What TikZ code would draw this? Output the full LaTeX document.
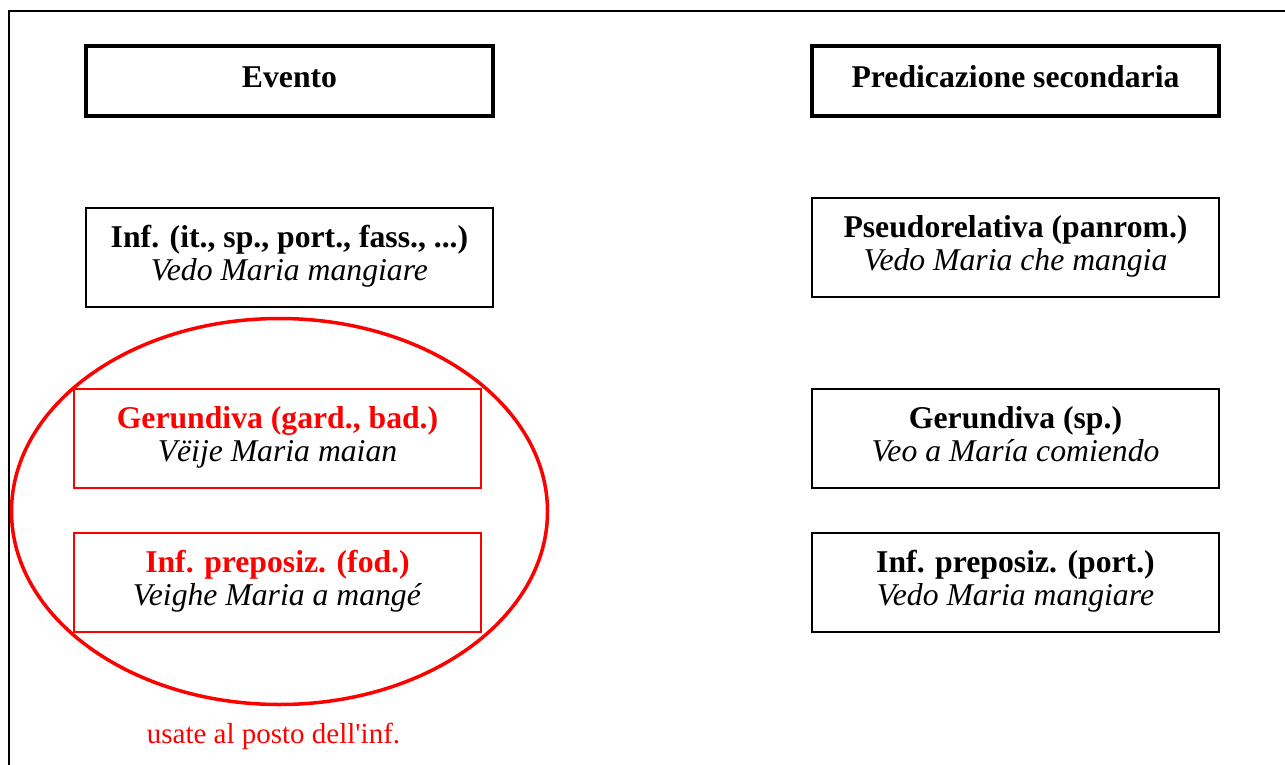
\documentclass[tikz,border=0pt]{standalone}
\usepackage{fontspec}
\setmainfont{Liberation Serif}
\newfontfamily\notefont{Liberation Serif}[Ligatures=TeXOff]
\usetikzlibrary{shapes.geometric}
\definecolor{pured}{RGB}{255,0,0}
\begin{document}
\begin{tikzpicture}[x=1pt,y=-1pt,
  headbox/.style={draw=black,line width=4pt,minimum width=407pt,minimum height=70pt,inner sep=0pt,
    font=\fontsize{31.7}{33}\selectfont\bfseries},
  itembox/.style={draw=black,line width=1.8pt,minimum width=407pt,minimum height=99pt,inner sep=0pt,align=center,
    font=\fontsize{31.7}{33}\selectfont},
  redbox/.style={itembox,draw=pured},
  grp/.style={draw=pured,line width=3.5pt,ellipse,minimum width=536pt,minimum height=386pt,inner sep=0pt},
  note/.style={text=pured,font=\notefont\fontsize{29}{33}\selectfont,inner sep=0pt,anchor=base}
]
\useasboundingbox (0,0) rectangle (1285,765);
\draw[line width=2pt] (9,766) -- (9,11) -- (1286,11);

\node[headbox] (ev) at (289.5,81) {\strut Evento};
\node[headbox] (ps) at (1015.5,81) {\strut Predicazione secondaria};

\node[itembox] (inf) at (289.5,257.5) {\textbf{Inf. (it., sp., port., fass., ...)}\strut\\\textit{Vedo Maria mangiare}\strut};
\node[itembox] (pr) at (1015.5,247.5) {\textbf{Pseudorelativa (panrom.)}\strut\\\textit{Vedo Maria che mangia}\strut};

\node[redbox] (gg) at (277.5,438.5) {\textcolor{pured}{\textbf{Gerundiva (gard., bad.)}}\strut\\\textit{Vëije Maria maian}\strut};
\node[itembox] (gs) at (1015.5,438.5) {\textbf{Gerundiva (sp.)}\strut\\\textit{Veo a María comiendo}\strut};

\node[redbox] (ipf) at (277.5,582.5) {\textcolor{pured}{\textbf{Inf. preposiz. (fod.)}}\strut\\\textit{Veighe Maria a mangé}\strut};
\node[itembox] (ipp) at (1015.5,582.5) {\textbf{Inf. preposiz. (port.)}\strut\\\textit{Vedo Maria mangiare}\strut};

\node[grp] (circ) at (279.5,511.5) {};
\node[note] (nt) at (273.5,743) {usate al posto dell'inf.};
\end{tikzpicture}
\end{document}
